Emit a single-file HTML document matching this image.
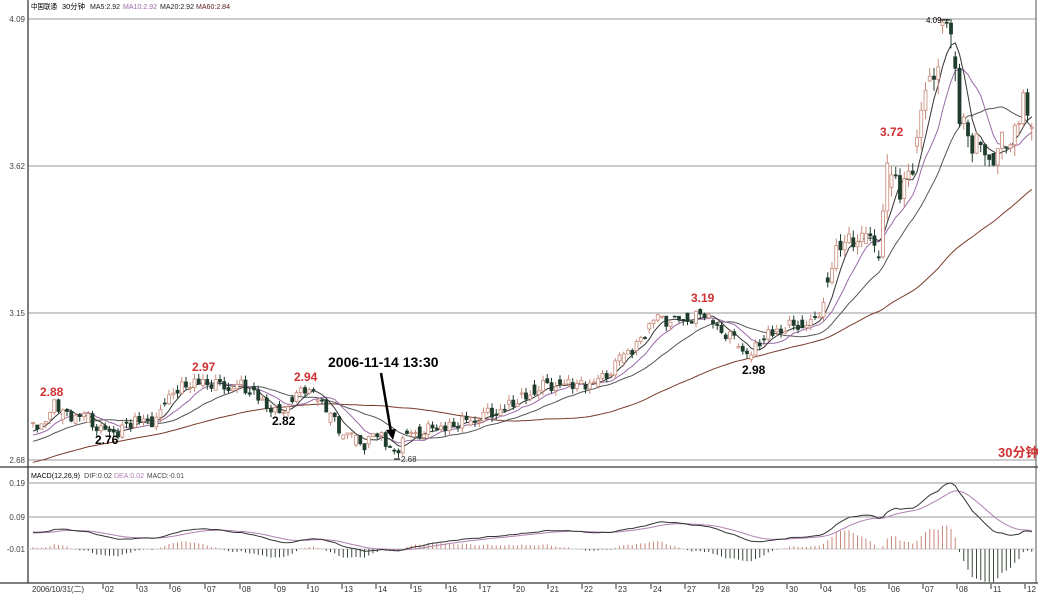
<!DOCTYPE html>
<html><head><meta charset="utf-8"><style>
html,body{margin:0;padding:0;background:#fff;}
svg{display:block;font-family:"Liberation Sans","Noto Sans CJK SC",sans-serif;}
</style></head><body>
<svg id="c" width="1038" height="594" viewBox="0 0 1038 594" xmlns="http://www.w3.org/2000/svg"></svg>
<script>
var W=[[33,2.80],[45,2.79],[55,2.86],[65,2.82],[90,2.81],[105,2.76],[120,2.77],[135,2.80],[150,2.80],[160,2.82],[170,2.90],[185,2.92],[205,2.94],[215,2.92],[240,2.92],[255,2.90],[275,2.83],[290,2.86],[305,2.91],[315,2.89],[330,2.82],[345,2.76],[365,2.73],[380,2.76],[393,2.69],[405,2.75],[430,2.78],[460,2.80],[490,2.83],[520,2.88],[545,2.92],[580,2.92],[600,2.93],[620,3.00],[640,3.05],[655,3.13],[680,3.12],[703,3.15],[720,3.10],[740,3.05],[752,3.02],[765,3.09],[790,3.11],[815,3.12],[825,3.20],[835,3.35],[860,3.40],[880,3.35],[888,3.62],[900,3.52],[910,3.58],[920,3.75],[935,3.95],[945,4.05],[952,4.05],[958,3.80],[970,3.70],[985,3.66],[995,3.66],[1010,3.72],[1025,3.85],[1036,3.75]];
function path(x){for(var i=1;i<W.length;i++){if(x<=W[i][0]){var a=W[i-1],b=W[i];return a[1]+(b[1]-a[1])*(x-a[0])/(b[0]-a[0]);}}return W[W.length-1][1];}
function Y(p){return 460-(p-2.68)*312.8;}
var N=236,sp=4.25,xs=[],O=[],C=[],H=[],L=[];
var prev=path(33);
for(var i=0;i<N;i++){var x=33+i*sp;xs.push(x);var base=path(x);
var vol=0.018+0.045*Math.max(0,base-3.2);
var c=base+vol*Math.sin(i*2.7+Math.sin(i*1.3)*2);
var o=prev; if(i%3==1)o=base-vol*1.1*Math.sin(i*1.9+1);
var h=Math.max(o,c)+vol*0.9*Math.abs(Math.sin(i*3.1));var l=Math.min(o,c)-vol*0.9*Math.abs(Math.cos(i*2.3));
if(h>4.09)h=4.09;O.push(o);C.push(c);H.push(h);L.push(l);prev=c;}
var s='';
function line(x1,y1,x2,y2,col,w){s+='<line x1="'+x1+'" y1="'+y1+'" x2="'+x2+'" y2="'+y2+'" stroke="'+col+'" stroke-width="'+(w||1)+'"/>';}
function txt(x,y,t,sz,col,extra){s+='<text x="'+x+'" y="'+y+'" font-size="'+sz+'" fill="'+col+'" '+(extra||'')+'>'+t+'</text>';}
[[19,'4.09'],[166,'3.62'],[313,'3.15'],[460,'2.68']].forEach(function(g){line(28,g[0],1036,g[0],'#999',1);txt(25,g[0]+3,g[1],8,'#444','text-anchor="end"');});
line(28,0,28,583,'#555',1.5);line(1036,0,1036,583,'#555',1);
line(0,467,1038,467,'#333',1.2);line(0,583,1038,583,'#333',1.2);
[[483,'0.19'],[517,'0.09'],[549,'-0.01']].forEach(function(g){line(28,g[0],1036,g[0],g[1]=='-0.01'?'#ccc':'#999',1);txt(25,g[0]+3,g[1],8,'#444','text-anchor="end"');});
function ma(n,hist){var r=[];var arr=hist.concat(C);for(var i=0;i<N;i++){var k=i+hist.length,sum=0;for(var j=0;j<n;j++)sum+=arr[k-j];r.push(sum/n);}return r;}
var h60=[];for(var i=0;i<60;i++)h60.push(2.57+0.2*i/60+0.01*Math.sin(i));
var h20=h60.slice(40);
function pl(a,col){var p='';for(var i=0;i<N;i++)p+=(i?'L':'M')+xs[i].toFixed(1)+','+Y(a[i]).toFixed(1);s+='<path d="'+p+'" fill="none" stroke="'+col+'" stroke-width="1"/>';}
pl(ma(60,h60),'#7a3a2a');pl(ma(20,h20),'#555');pl(ma(10,h20),'#9a6aa8');pl(ma(5,h20),'#333');
for(var i=0;i<N;i++){var x=xs[i],up=C[i]>=O[i];var col=up?'#c88a78':'#1f3d2c';
line(x,Y(H[i]),x,Y(L[i]),col,1);var t=Y(Math.max(O[i],C[i])),b=Y(Math.min(O[i],C[i]));var hh=Math.max(1,b-t);
s+='<rect x="'+(x-1.5)+'" y="'+t+'" width="3" height="'+hh+'" fill="'+(up?'#fff':col)+'" stroke="'+col+'" stroke-width="0.8"/>';}
var dea=0,D=[],E=[];
var all=h60.concat(C);var e12=all[0],e26=all[0];
for(var k=0;k<all.length;k++){e12=e12+(all[k]-e12)*2/13;e26=e26+(all[k]-e26)*2/27;var d=e12-e26;dea=dea+(d-dea)*2/10;if(k>=60){D.push(d);E.push(dea);}}
var mx=Math.max.apply(null,D);var kk=(540-483)/mx;
for(var i=0;i<N;i++){var m=(D[i]-E[i])*2;var hy=549-m*kk*1.1;line(xs[i],549,xs[i],hy,m>=0?'#c88a78':'#3a4a3a',1);}
function mpl(a,col){var p='';for(var i=0;i<N;i++)p+=(i?'L':'M')+xs[i].toFixed(1)+','+(540-a[i]*kk).toFixed(1);s+='<path d="'+p+'" fill="none" stroke="'+col+'" stroke-width="1"/>';}
mpl(E,'#b080b0');mpl(D,'#333');
var dl=[[103,'02'],[137,'03'],[170,'06'],[205,'07'],[240,'08'],[275,'09'],[308,'10'],[342,'13'],[376,'14'],[411,'15'],[446,'16'],[480,'17'],[514,'20'],[548,'21'],[582,'22'],[616,'23'],[651,'24'],[685,'27'],[719,'28'],[753,'29'],[787,'30'],[821,'04'],[855,'05'],[889,'06'],[923,'07'],[957,'08'],[991,'11'],[1025,'12']];
txt(32,592,'2006/10/31(二)',8,'#333','textLength="52"');
dl.forEach(function(d){line(d[0],584,d[0],589,'#333',1);txt(d[0]+2,592,d[1],8,'#333');});
function tl(x,y,t,col,len){txt(x,y,t,7.5,col,'textLength="'+len+'" lengthAdjust="spacingAndGlyphs"');}
tl(31,9,'中国联通','#000',26);tl(62,9,'30分钟','#000',23);tl(90,9,'MA5:2.92','#222',30);tl(123,9,'MA10:2.92','#9a6aa8',34);tl(160,9,'MA20:2.92','#222',34);tl(196,9,'MA60:2.84','#5a1a1a',34);
tl(31,478,'MACD(12,26,9)','#000',49);tl(84,478,'DIF:0.02','#444',28);tl(114,478,'DEA:0.02','#b080b0',30);tl(147,478,'MACD:-0.01','#444',37);
var B='font-weight="bold"';
txt(40,396,'2.88',12,'#d03030',B);txt(192,371,'2.97',12,'#d03030',B);txt(294,381,'2.94',12,'#d03030',B);txt(691,302,'3.19',12,'#d03030',B);txt(880,136,'3.72',12,'#d03030',B);
txt(95,444,'2.76',12,'#000',B);txt(272,425,'2.82',12,'#000',B);txt(742,374,'2.98',12,'#000',B);
txt(328,367,'2006-11-14 13:30',14,'#000',B);
line(381,373,391,432,'#000',2.5);s+='<polygon points="386,430 396,429 393,440" fill="#000"/>';
line(394,459,400,459,'#000',1);txt(401,462,'2.68',8,'#333');
txt(926,23,'4.09',8,'#000');line(940,20,950,20,'#000',1);
txt(998,457,'30分钟',13,'#d03030',B);
document.getElementById('c').innerHTML=s;
</script>
</body></html>
